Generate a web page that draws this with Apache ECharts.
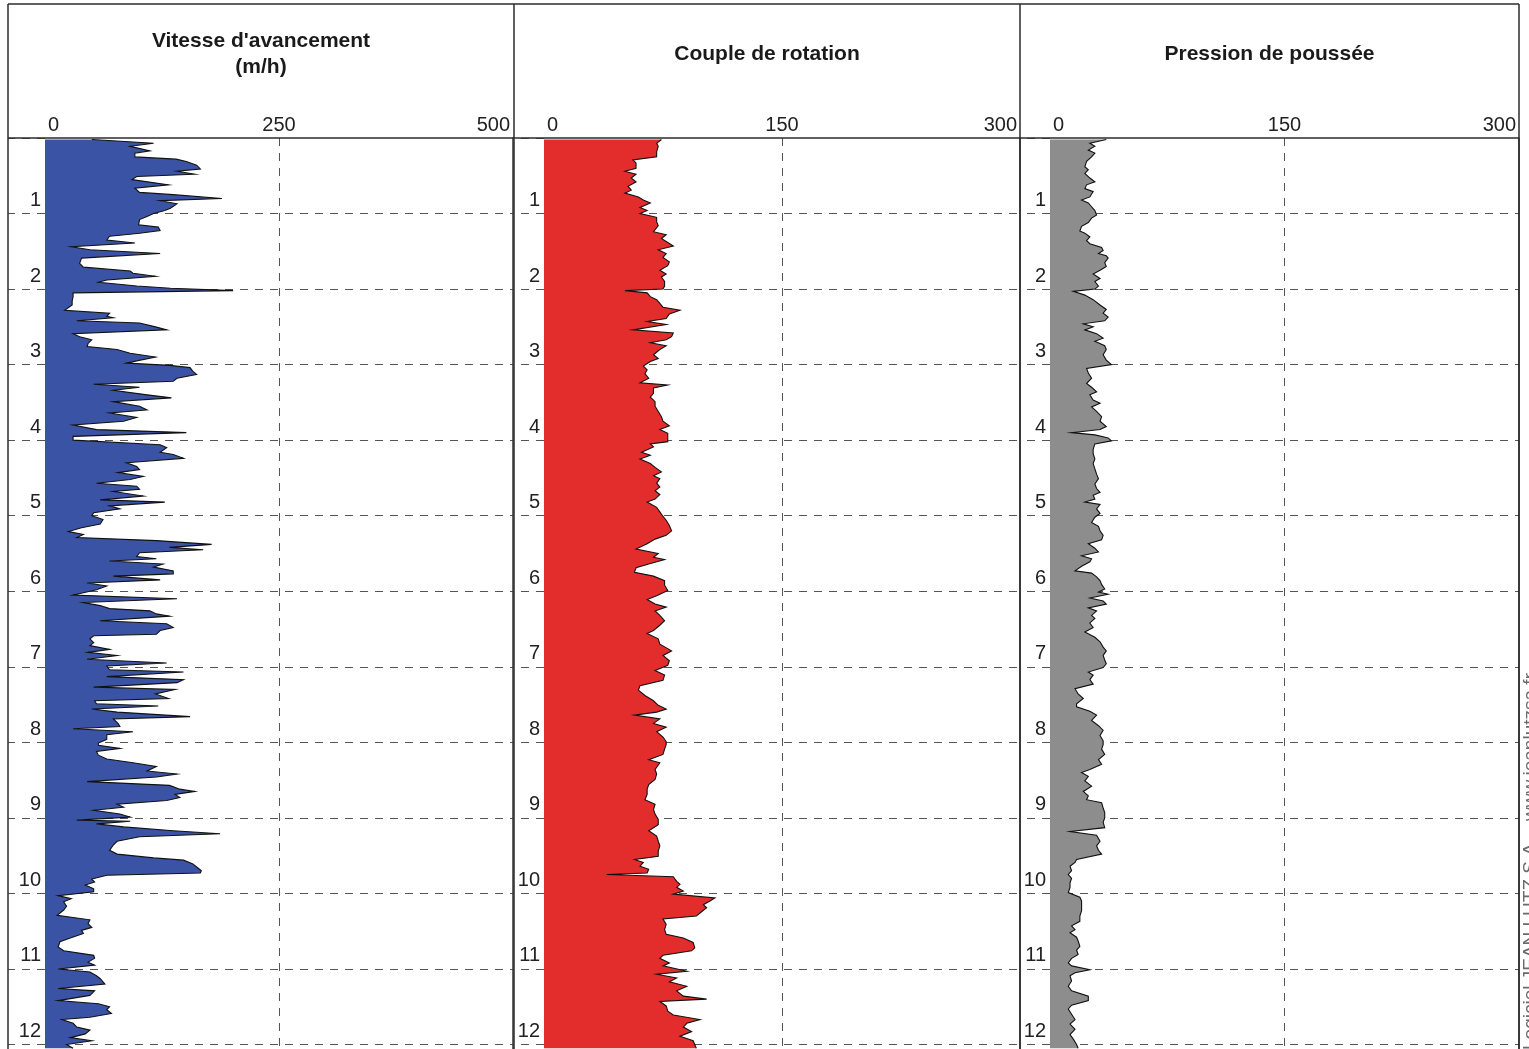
<!DOCTYPE html>
<html>
<head>
<meta charset="utf-8">
<title>Paramètres de forage</title>
<script src="https://cdn.jsdelivr.net/npm/echarts@6/dist/echarts.min.js"></script>
<style>
  html, body { margin: 0; padding: 0; background: #ffffff; }
  #chart { width: 1529px; height: 1049px; }
</style>
</head>
<body>
<div id="chart"></div>
<script>
// Drilling parameter logs, each reading as [depth (m), value]

// Vitesse d'avancement (m/h)
const vitesse = [
  [0.02,50],[0.07,116],[0.11,91],[0.17,112],[0.20,96],[0.25,96],[0.28,140],[0.31,151],[0.36,162],[0.41,166],
  [0.44,141],[0.48,160],[0.51,98],[0.55,93],[0.62,132],[0.665,96],[0.72,101],[0.75,137],[0.80,189],[0.83,123],
  [0.87,141],[0.93,134],[0.96,128],[1.00,116],[1.04,109],[1.08,101],[1.15,100],[1.18,121],[1.225,123],[1.26,101],
  [1.30,69],[1.35,66],[1.39,96],[1.44,28],[1.48,48],[1.53,123],[1.59,39],[1.66,37],[1.71,41],[1.76,91],
  [1.79,94],[1.83,118],[1.88,66],[1.91,57],[1.96,98],[1.99,134],[2.02,201],[2.05,30],[2.10,30],[2.16,29],
  [2.21,29],[2.28,21],[2.32,69],[2.36,66],[2.38,73],[2.42,34],[2.45,101],[2.50,118],[2.54,130],[2.59,30],
  [2.63,37],[2.67,50],[2.72,46],[2.76,45],[2.80,77],[2.85,91],[2.90,118],[2.95,98],[2.98,87],[3.01,133],
  [3.04,155],[3.09,158],[3.13,162],[3.18,141],[3.22,137],[3.26,52],[3.30,101],[3.34,73],[3.40,109],[3.44,135],
  [3.49,73],[3.55,101],[3.60,109],[3.64,69],[3.70,98],[3.75,84],[3.80,30],[3.86,55],[3.90,151],[3.95,30],
  [4.00,30],[4.06,123],[4.10,130],[4.16,123],[4.19,137],[4.24,148],[4.30,87],[4.35,98],[4.39,101],[4.43,78],
  [4.48,105],[4.52,91],[4.57,55],[4.61,98],[4.65,101],[4.68,73],[4.74,105],[4.79,59],[4.82,128],[4.87,69],
  [4.91,80],[4.96,52],[5.00,50],[5.05,62],[5.11,59],[5.16,39],[5.21,25],[5.25,41],[5.29,34],[5.33,119],
  [5.38,178],[5.42,133],[5.45,169],[5.49,101],[5.54,98],[5.57,119],[5.60,69],[5.64,126],[5.68,116],[5.73,137],
  [5.77,137],[5.80,73],[5.85,123],[5.89,45],[5.93,66],[5.98,55],[6.02,41],[6.05,30],[6.10,141],[6.15,41],
  [6.19,59],[6.23,69],[6.26,112],[6.30,119],[6.33,133],[6.39,59],[6.43,130],[6.48,137],[6.52,123],[6.57,119],
  [6.59,52],[6.63,48],[6.68,52],[6.72,48],[6.77,69],[6.81,46],[6.85,77],[6.90,45],[6.95,130],[6.99,66],
  [7.04,69],[7.07,148],[7.13,66],[7.17,148],[7.21,141],[7.27,52],[7.30,139],[7.36,118],[7.42,132],[7.45,53],
  [7.49,55],[7.52,121],[7.56,50],[7.60,77],[7.66,155],[7.69,73],[7.75,78],[7.79,80],[7.82,30],[7.86,94],
  [7.90,66],[7.96,66],[8.01,57],[8.04,57],[8.08,80],[8.12,55],[8.17,57],[8.22,66],[8.27,94],[8.32,119],
  [8.38,109],[8.42,141],[8.46,119],[8.52,45],[8.57,133],[8.62,144],[8.65,160],[8.69,139],[8.73,144],[8.77,130],
  [8.82,77],[8.86,84],[8.90,52],[8.95,80],[8.99,91],[9.03,34],[9.045,91],[9.08,55],[9.12,84],[9.17,137],
  [9.21,187],[9.25,101],[9.31,77],[9.36,73],[9.43,69],[9.48,77],[9.53,116],[9.56,148],[9.61,158],[9.65,162],
  [9.70,167],[9.73,166],[9.76,66],[9.81,50],[9.85,53],[9.89,43],[9.94,52],[9.98,52],[10.03,14],[10.07,28],
  [10.11,20],[10.17,23],[10.22,20],[10.29,13],[10.35,48],[10.40,46],[10.45,50],[10.49,39],[10.53,41],[10.59,27],
  [10.64,16],[10.71,14],[10.76,20],[10.82,52],[10.86,53],[10.91,46],[10.95,53],[11.00,14],[11.04,48],[11.09,55],
  [11.13,59],[11.20,64],[11.26,14],[11.29,53],[11.35,48],[11.42,14],[11.46,57],[11.50,69],[11.54,66],[11.59,71],
  [11.64,48],[11.67,18],[11.72,30],[11.77,34],[11.81,48],[11.86,43],[11.91,27],[11.95,50],[12.00,23],[12.05,30]
];

// Couple de rotation
const couple = [
  [0.02,74],[0.07,71],[0.11,72],[0.18,71],[0.25,71],[0.29,56],[0.33,58],[0.40,58],[0.44,51],[0.48,58],
  [0.53,55],[0.58,58],[0.64,53],[0.69,55],[0.73,51],[0.78,59.5],[0.82,62.6],[0.86,67],[0.92,60.5],[0.96,65],
  [1.00,60.5],[1.05,71],[1.11,71],[1.16,72],[1.24,69],[1.28,77],[1.33,74],[1.37,77],[1.43,81.5],[1.48,72],
  [1.53,77],[1.58,75],[1.64,79],[1.69,78],[1.75,73],[1.80,77],[1.84,74],[1.90,76],[1.96,76],[2.00,75],
  [2.02,51],[2.05,65],[2.10,67],[2.14,71],[2.19,73],[2.24,75],[2.28,85.7],[2.33,79],[2.39,77],[2.43,65],
  [2.47,77],[2.54,56],[2.58,81.5],[2.63,80.4],[2.67,77],[2.71,67],[2.75,77],[2.80,73],[2.87,69],[2.92,72],
  [2.96,67],[3.02,62.6],[3.07,65],[3.12,63.6],[3.18,66],[3.24,60.5],[3.27,78],[3.31,69],[3.38,69],[3.43,67],
  [3.49,70],[3.55,70],[3.62,72],[3.69,74],[3.75,75],[3.81,79],[3.86,73],[3.91,78],[3.97,78],[4.02,78],
  [4.05,67],[4.09,69],[4.16,61.5],[4.20,67],[4.25,60.5],[4.31,67],[4.36,70],[4.42,74],[4.47,69],[4.51,73],
  [4.57,71],[4.62,73],[4.67,70],[4.72,73],[4.78,70],[4.82,65],[4.89,71],[4.95,73],[5.01,75],[5.06,77],
  [5.13,79],[5.20,80.4],[5.26,77],[5.31,70],[5.37,65],[5.44,58],[5.50,72],[5.55,69],[5.58,76],[5.64,66],
  [5.69,58],[5.75,57],[5.80,69],[5.86,76],[5.92,76],[5.99,78],[6.06,71],[6.11,65],[6.17,70],[6.21,77],
  [6.26,70],[6.32,73],[6.39,76],[6.45,73],[6.52,69],[6.56,65],[6.63,72],[6.70,73],[6.76,78],[6.79,80.4],
  [6.85,75],[6.92,79],[6.98,78],[7.05,70],[7.11,76],[7.18,75],[7.25,60.5],[7.31,59.5],[7.38,63.6],[7.45,69],
  [7.51,72],[7.56,77],[7.60,71],[7.64,57],[7.69,73],[7.75,69],[7.80,77],[7.86,71],[7.93,75],[7.99,77],
  [8.03,77],[8.09,76],[8.16,75],[8.23,66],[8.27,73],[8.36,70],[8.42,71],[8.49,70],[8.56,66],[8.62,65],
  [8.69,65],[8.76,63.6],[8.82,70],[8.89,69],[8.95,70],[9.02,72],[9.09,72],[9.17,66],[9.24,71],[9.31,72],
  [9.37,73],[9.44,72],[9.51,72],[9.55,57],[9.59,62.6],[9.64,60.5],[9.68,66],[9.73,65],[9.75,39.5],[9.78,81.5],
  [9.84,83.6],[9.88,85.7],[9.92,83.6],[9.97,87.8],[10.01,81.5],[10.06,107.7],[10.10,104.6],[10.15,100.4],[10.19,102.5],[10.26,98.3],
  [10.30,96],[10.34,75],[10.41,77],[10.48,76],[10.54,77],[10.59,87.8],[10.65,94],[10.72,95],[10.76,93],[10.82,75],
  [10.86,73],[10.92,79],[10.96,75],[11.03,90],[11.07,71],[11.12,83.6],[11.17,79],[11.23,90],[11.29,83.6],[11.36,87.8],
  [11.40,102.5],[11.43,73],[11.49,77],[11.56,78],[11.61,81.5],[11.67,98.3],[11.72,90],[11.77,87.8],[11.83,93],[11.89,85.7],
  [11.95,94],[12.00,95],[12.05,96]
];

// Pression de poussée
const pression = [
  [0.02,36],[0.07,25.5],[0.11,28.7],[0.16,24.5],[0.20,28.7],[0.25,26.6],[0.31,23.4],[0.38,22.3],[0.42,24.5],[0.47,22.3],
  [0.53,25.5],[0.58,28.7],[0.62,23.4],[0.67,22.3],[0.71,27.6],[0.78,25.5],[0.82,20.2],[0.86,24.5],[0.91,26.6],[0.96,28.7],
  [1.02,29.8],[1.06,26.6],[1.12,24.5],[1.17,20.2],[1.23,19.1],[1.26,22.3],[1.31,25.5],[1.36,23.4],[1.40,25.5],[1.45,33],
  [1.49,34],[1.53,31],[1.56,36],[1.59,37.2],[1.65,35],[1.70,36],[1.75,32],[1.80,27.6],[1.86,32],[1.90,28.7],
  [1.96,31],[2.00,28.7],[2.03,14.9],[2.08,22.3],[2.14,27.6],[2.21,32],[2.27,36],[2.32,34],[2.37,37.2],[2.42,35],
  [2.46,21.3],[2.50,27.6],[2.54,22.3],[2.59,29.8],[2.65,34],[2.69,28.7],[2.75,35],[2.80,36],[2.87,34],[2.94,36],
  [3.00,39.3],[3.05,23.4],[3.11,24.5],[3.18,26.6],[3.25,23.4],[3.30,26.6],[3.36,29.8],[3.40,25.5],[3.47,27.6],[3.51,32],
  [3.56,26.6],[3.62,29.8],[3.69,33],[3.75,32],[3.82,36],[3.86,32],[3.90,13.8],[3.93,28.7],[3.97,37.2],[4.01,39.3],
  [4.05,28.7],[4.12,27.6],[4.18,27.6],[4.25,28.7],[4.31,27.6],[4.38,28.7],[4.45,29.8],[4.51,31],[4.58,28.7],[4.64,29.8],
  [4.69,32],[4.73,27.6],[4.78,28.7],[4.82,22.3],[4.85,32],[4.91,29.8],[4.97,32],[5.02,28.7],[5.09,26.6],[5.14,31],
  [5.20,32],[5.26,34],[5.32,33],[5.37,24.5],[5.43,28.7],[5.48,31],[5.53,20.2],[5.57,26.6],[5.61,25.5],[5.67,20.2],
  [5.73,16],[5.76,26.6],[5.81,29.8],[5.86,32],[5.91,33],[5.97,35],[6.01,31],[6.04,37.2],[6.09,25.5],[6.13,34],
  [6.17,36],[6.22,24.5],[6.26,29.8],[6.32,26.6],[6.36,28.7],[6.42,25.5],[6.48,27.6],[6.54,22.3],[6.61,28.7],[6.67,32],
  [6.74,34],[6.79,36],[6.85,34],[6.91,35],[6.96,36],[7.01,34],[7.07,24.5],[7.11,27.6],[7.17,25.5],[7.23,27.6],
  [7.29,16],[7.36,18],[7.42,21.3],[7.49,17],[7.53,17],[7.59,25.5],[7.64,29.8],[7.71,26.6],[7.78,31],[7.84,34],
  [7.91,32],[7.98,34],[8.03,34],[8.09,33],[8.16,35],[8.23,31],[8.29,33],[8.36,25.5],[8.40,20.2],[8.45,24.5],
  [8.51,22.3],[8.58,26.6],[8.65,21.3],[8.71,24.5],[8.76,23.4],[8.80,33],[8.87,34],[8.93,35],[9.00,35],[9.06,34],
  [9.13,35],[9.18,12.8],[9.23,29.8],[9.31,32],[9.37,29.8],[9.43,31],[9.48,33],[9.55,17],[9.59,16],[9.64,12.8],
  [9.70,13.8],[9.75,11.7],[9.80,13.8],[9.86,12.8],[9.92,12.8],[9.99,11.7],[10.05,19.1],[10.10,20.2],[10.17,20.2],[10.23,20.2],
  [10.30,19.1],[10.37,19.1],[10.43,13.8],[10.48,16],[10.52,12.8],[10.58,17],[10.63,18],[10.70,19.1],[10.75,17],[10.81,18],
  [10.86,13.8],[10.92,11.7],[10.96,13.8],[11.01,25.5],[11.05,16],[11.09,12.8],[11.16,13.8],[11.23,11.7],[11.29,13.8],[11.36,24.5],
  [11.42,24.5],[11.48,13.8],[11.53,11.7],[11.60,13.8],[11.67,16],[11.73,12.8],[11.80,16],[11.87,12.8],[11.93,14.9],[12.00,17],
  [12.05,18]
];

// Track headers and horizontal scales
const trackTitles = ["Vitesse d'avancement\n(m/h)", "Couple de rotation", "Pression de poussée"];
const trackMax = [500, 300, 300];
const trackStep = [250, 150, 150];
const depthMax = 12.06;
const creditText = 'Logiciel JEAN LUTZ S.A. - www.jeanlutzsa.fr';

// Page layout (pixels)
const FONT = '"Liberation Sans", Arial, Helvetica, sans-serif';
const frameTop = 4, ruleY = 138, pageBottom = 1049;
const panelEdges = [8, 514, 1020, 1519];
const plotLeft = [45, 544, 1050];
const plotRight = [513, 1020, 1519];
const fillColors = ['#3B53A4', '#E32D2D', '#8E8D8E'];
const tracks = [vitesse, couple, pression];

const chart = echarts.init(document.getElementById('chart'), null, { renderer: 'canvas' });

const gridLine = { color: '#555', width: 1, type: [8, 7] };

const grids = [], xAxes = [], yAxes = [], series = [], graphics = [];

tracks.forEach(function (track, i) {
  grids.push({
    left: plotLeft[i], top: ruleY,
    width: plotRight[i] - plotLeft[i],
    height: pageBottom - ruleY
  });

  const max = trackMax[i];
  xAxes.push({
    gridIndex: i, type: 'value', position: 'top',
    min: 0, max: max, interval: trackStep[i],
    axisLine: { show: false }, axisTick: { show: false },
    axisLabel: {
      margin: 3, alignMinLabel: 'left', alignMaxLabel: 'right',
      formatter: function (v) {
        if (v === 0) return '{lo|0}';
        if (v === max) return '{hi|' + v + '}';
        return '{mid|' + v + '}';
      },
      rich: {
        lo: { fontSize: 20, fontFamily: FONT, color: '#222', padding: [0, 0, 0, 3] },
        mid: { fontSize: 20, fontFamily: FONT, color: '#222' },
        hi: { fontSize: 20, fontFamily: FONT, color: '#222', padding: [0, 3, 0, 0] }
      }
    },
    splitLine: { show: true, showMinLine: false, showMaxLine: false, lineStyle: gridLine }
  });

  // depth scale with dashed grid and labels
  yAxes.push({
    gridIndex: i, type: 'value', inverse: true,
    min: 0, max: depthMax, interval: 1,
    axisLine: { show: false },
    axisTick: { show: true, length: plotLeft[i] - panelEdges[i], lineStyle: gridLine },
    axisLabel: {
      margin: 4, fontSize: 20, fontFamily: FONT, color: '#222',
      verticalAlign: 'bottom', padding: [0, 0, 3, 0],
      formatter: function (v) { return (v > 0 && Math.abs(v - Math.round(v)) < 1e-6) ? String(Math.round(v)) : ''; }
    },
    splitLine: { show: true, showMinLine: false, showMaxLine: false, lineStyle: gridLine }
  });

  const pts = track.map(function (p) { return [p[1], p[0]]; });
  series.push({
    type: 'custom',
    name: trackTitles[i],
    coordinateSystem: 'cartesian2d',
    xAxisIndex: i, yAxisIndex: i,
    data: pts,
    encode: { x: 0, y: 1 },
    silent: true,
    animation: false,
    renderItem: function (params, api) {
      if (params.dataIndex !== 0) return null;
      const edge = pts.map(function (p) { return api.coord(p); });
      const start = api.coord([0, pts[0][1]]);
      const end = api.coord([0, pts[pts.length - 1][1]]);
      return {
        type: 'group',
        children: [
          { type: 'polygon', shape: { points: [start].concat(edge, [end]) },
            style: { fill: fillColors[i], stroke: null } },
          { type: 'polyline', shape: { points: edge },
            style: { stroke: '#111', lineWidth: 1.1, fill: null } }
        ]
      };
    }
  });

  // track headers
  graphics.push({
    type: 'text', z: 30,
    x: (panelEdges[i] + panelEdges[i + 1]) / 2, y: 54,
    style: {
      text: trackTitles[i], textAlign: 'center', textVerticalAlign: 'middle',
      font: 'bold 21px ' + FONT, lineHeight: 26, fill: '#1a1a1a'
    }
  });
});

// solid depth axis line drawn over the fills
tracks.forEach(function (track, i) {
  yAxes.push({
    gridIndex: i, type: 'value', inverse: true, min: 0, max: depthMax, interval: 1, z: 10,
    axisLine: { show: true, lineStyle: { color: '#333', width: 1.5 } },
    axisTick: { show: false }, axisLabel: { show: false }, splitLine: { show: false }
  });
});

// frame lines
const frameStyle = { stroke: '#2b2b2b', lineWidth: 1.5 };
graphics.push({ type: 'line', z: 40, shape: { x1: panelEdges[0], y1: frameTop, x2: panelEdges[3], y2: frameTop }, style: frameStyle });
graphics.push({ type: 'line', z: 40, shape: { x1: panelEdges[0], y1: ruleY, x2: panelEdges[3], y2: ruleY }, style: frameStyle });
panelEdges.forEach(function (x) {
  graphics.push({ type: 'line', z: 40, shape: { x1: x, y1: frameTop, x2: x, y2: pageBottom }, style: frameStyle });
});

// vertical credit along the right edge
graphics.push({
  type: 'text', z: 40, x: 1531, y: 1050, rotation: Math.PI / 2,
  style: {
    text: creditText, textAlign: 'left', textVerticalAlign: 'middle',
    font: '19px ' + FONT, fill: '#6b6b6b'
  }
});

chart.setOption({
  animation: false,
  backgroundColor: '#ffffff',
  grid: grids,
  xAxis: xAxes,
  yAxis: yAxes,
  series: series,
  graphic: graphics
});
</script>
</body>
</html>
